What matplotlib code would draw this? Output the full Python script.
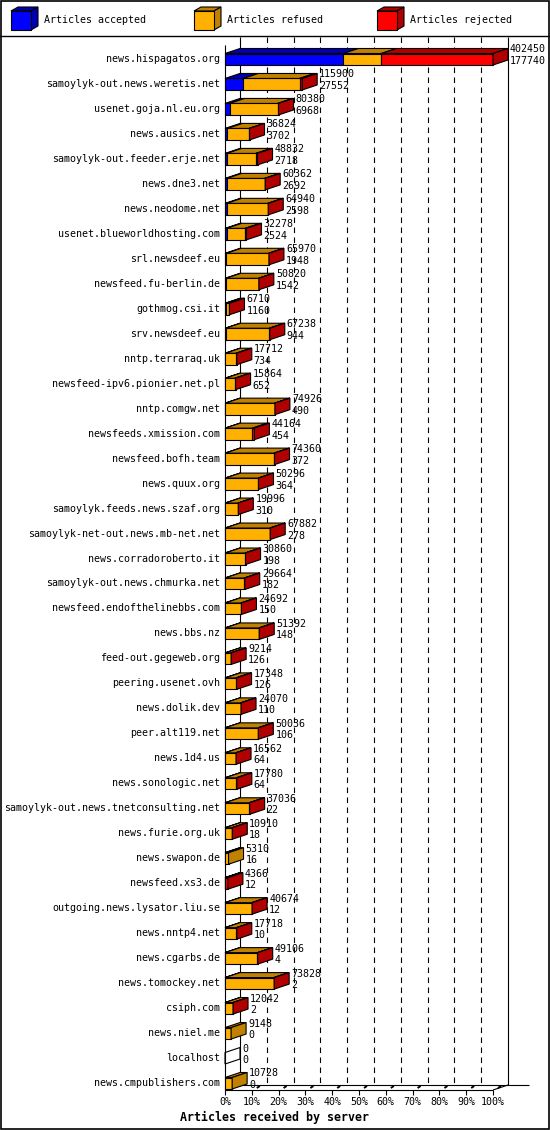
import numpy as np
import matplotlib.pyplot as plt
from matplotlib.patches import Polygon, Rectangle

hosts = [
    'news.hispagatos.org', 'samoylyk-out.news.weretis.net', 'usenet.goja.nl.eu.org',
    'news.ausics.net', 'samoylyk-out.feeder.erje.net', 'news.dne3.net',
    'news.neodome.net', 'usenet.blueworldhosting.com', 'srl.newsdeef.eu',
    'newsfeed.fu-berlin.de', 'gothmog.csi.it', 'srv.newsdeef.eu',
    'nntp.terraraq.uk', 'newsfeed-ipv6.pionier.net.pl', 'nntp.comgw.net',
    'newsfeeds.xmission.com', 'newsfeed.bofh.team', 'news.quux.org',
    'samoylyk.feeds.news.szaf.org', 'samoylyk-net-out.news.mb-net.net',
    'news.corradoroberto.it', 'samoylyk-out.news.chmurka.net',
    'newsfeed.endofthelinebbs.com', 'news.bbs.nz', 'feed-out.gegeweb.org',
    'peering.usenet.ovh', 'news.dolik.dev', 'peer.alt119.net', 'news.1d4.us',
    'news.sonologic.net', 'samoylyk-out.news.tnetconsulting.net',
    'news.furie.org.uk', 'news.swapon.de', 'newsfeed.xs3.de',
    'outgoing.news.lysator.liu.se', 'news.nntp4.net', 'news.cgarbs.de',
    'news.tomockey.net', 'csiph.com', 'news.niel.me', 'localhost',
    'news.cmpublishers.com',
]
offered = [
    402450, 115900, 80380, 36824, 48832, 60362, 64940, 32278, 65970, 50820,
    6710, 67238, 17712, 15864, 74926, 44164, 74360, 50296, 19996, 67882,
    30860, 29664, 24692, 51392, 9214, 17348, 24070, 50036, 16562, 17780,
    37036, 10910, 5310, 4366, 40674, 17718, 49106, 73828, 12042, 9148,
    0, 10728,
]
accepted = [
    177740, 27552, 6968, 3702, 2718, 2692, 2598, 2524, 1948, 1542,
    1160, 944, 734, 652, 490, 454, 372, 364, 310, 278,
    198, 182, 150, 148, 126, 126, 110, 106, 64, 64,
    22, 18, 16, 12, 12, 10, 4, 2, 2, 0,
    0, 0,
]
rejected = [
    167710, 4000, 1500, 500, 2500, 800, 600, 2000, 500, 500,
    1050, 600, 1200, 1000, 400, 3000, 300, 400, 800, 400,
    800, 500, 700, 300, 800, 900, 600, 400, 500, 600,
    700, 500, 0, 4054, 500, 600, 400, 400, 500, 0,
    0, 0,
]
refused = [o - a - r for o, a, r in zip(offered, accepted, rejected)]

series = ['Articles accepted', 'Articles refused', 'Articles rejected']
colors = ['#0000FF', '#FFB000', '#FF0000']
darks = ['#0000B0', '#C08000', '#B00000']

W, H = 550, 1130
X0, ROW0 = 225, 59
SX = 268 / 100.0
SY = (1083 - 59) / 41.0
DX, DY = 15 / SX, 5 / SY
FONT = 'DejaVu Sans Mono'

fig = plt.figure(figsize=(W / 100, H / 100), dpi=100)
ax = fig.add_axes([0, 0, 1, 1])
ax.set_xlim(-X0 / SX, (W - X0) / SX)
ax.set_ylim((H - ROW0) / SY, -ROW0 / SY)
ax.axis('off')


def py(p):
    return (p - ROW0) / SY


def line(xs, ys, lw=0.8, **kw):
    ax.plot(xs, ys, color='black', lw=lw, solid_capstyle='butt', **kw)


# back wall, grid and floor
top, back_floor, front_floor = py(37), py(1085), py(1090)
for k in range(1, 10):
    line([k * 10 + DX] * 2, [top, back_floor], linestyle=(0, (5, 4)))
line([DX, DX], [top, back_floor])
line([100 + DX] * 2, [top, back_floor])
line([0, 0], [py(45), front_floor])
line([0, 100], [front_floor] * 2)
line([DX, (529 - X0) / SX], [back_floor] * 2)
line([0, DX], [front_floor, back_floor])
line([100, 100 + DX], [front_floor, back_floor])
for k in range(11):
    x = k * 10
    line([x, x], [front_floor, py(1095)])
    line([x + 5 / SX, x + 8 / SX], [py(1088), py(1086)], lw=1.4)
    ax.text(x, py(1102), f'{x}%', ha='center', va='center', family=FONT, fontsize=7.2)
ax.text((274 - X0) / SX, py(1117), 'Articles received by server', ha='center',
        va='center', family=FONT, fontsize=8.4, fontweight='bold')

# bars
vmax = max(offered)
h_top, h_bot = 5.5 / SY, 6 / SY
for i, host in enumerate(hosts):
    yt, yb = i - h_top, i + h_bot
    parts = [accepted[i], refused[i], rejected[i]]
    left = 0.0
    last = None
    for j, v in enumerate(parts):
        if v <= 0:
            continue
        w = v / vmax * 100
        ax.add_patch(Rectangle((left, yt), w, yb - yt, facecolor=colors[j],
                               edgecolor='black', lw=0.8, zorder=3))
        ax.add_patch(Polygon([(left, yt), (left + w, yt), (left + w + DX, yt - DY),
                              (left + DX, yt - DY)], closed=True, facecolor=darks[j],
                             edgecolor='black', lw=0.8, zorder=3))
        left += w
        last = j
    side = [(left, yt), (left + DX, yt - DY), (left + DX, yb - DY), (left, yb)]
    ax.add_patch(Polygon(side, closed=True, facecolor=darks[last] if last is not None else 'none',
                         edgecolor='black', lw=0.8, zorder=3))
    ax.text(-5 / SX, i, host, ha='right', va='center', family=FONT, fontsize=7.2)
    xn = left + DX + 2 / SX
    ax.text(xn, i - 9.5 / SY, str(offered[i]), ha='left', va='center', family=FONT, fontsize=7.2, zorder=4)
    ax.text(xn, i + 2 / SY, str(accepted[i]), ha='left', va='center', family=FONT, fontsize=7.2, zorder=4)

# legend strip and frame
lg = fig.add_axes([0, 0, 1, 1], facecolor='none')
lg.set_xlim(0, W)
lg.set_ylim(H, 0)
lg.axis('off')
lg.add_patch(Rectangle((0.5, 0.5), W - 1.5, H - 1.5, fill=False, edgecolor='black', lw=1.2))
lg.plot([0, W], [36, 36], color='black', lw=1.0)
for x, name, c, d in zip([11, 194, 377], series, colors, darks):
    fx0, fx1, fy0, fy1, ddx, ddy = x, x + 20, 11, 30, 7, 4
    lg.add_patch(Polygon([(fx0, fy0), (fx1, fy0), (fx1 + ddx, fy0 - ddy), (fx0 + ddx, fy0 - ddy)],
                         closed=True, facecolor=d, edgecolor='black', lw=0.8))
    lg.add_patch(Polygon([(fx1, fy0), (fx1 + ddx, fy0 - ddy), (fx1 + ddx, fy1 - ddy), (fx1, fy1)],
                         closed=True, facecolor=d, edgecolor='black', lw=0.8))
    lg.add_patch(Rectangle((fx0, fy0), 20, fy1 - fy0, facecolor=c, edgecolor='black', lw=0.8))
    lg.text(fx1 + ddx + 6, 20, name, ha='left', va='center', family=FONT, fontsize=7.2)

fig.savefig('out.png', dpi=100)
